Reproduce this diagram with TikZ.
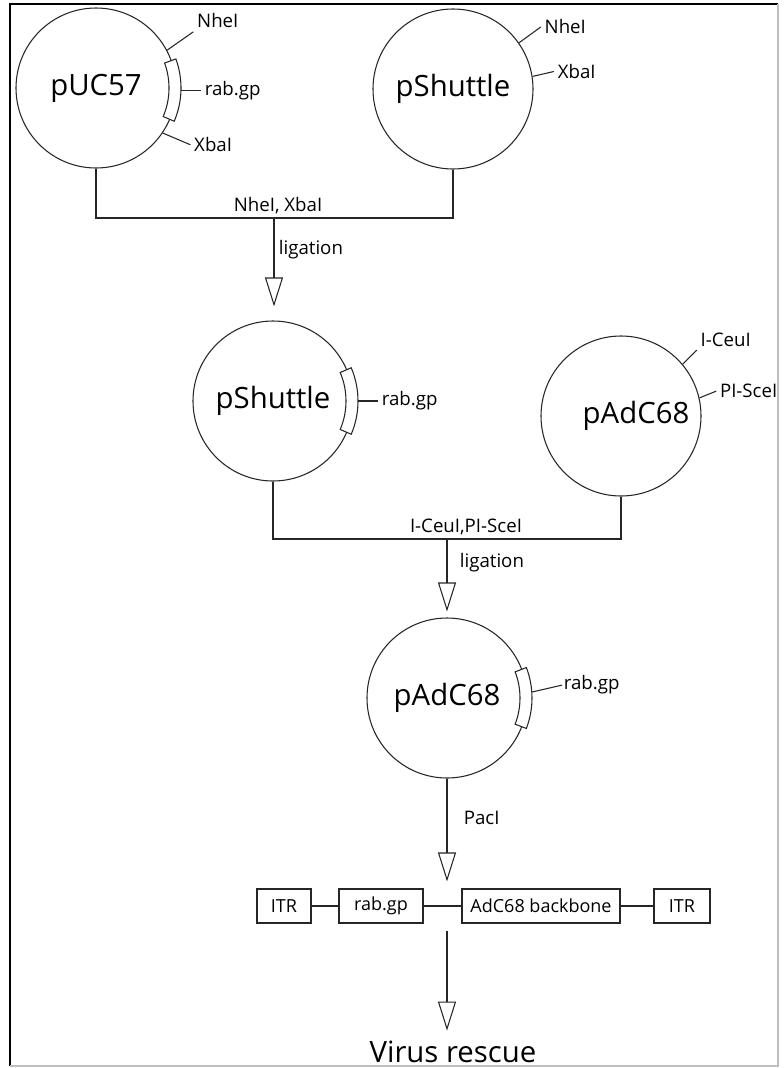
\documentclass[tikz,border=0pt]{standalone}
\usepackage{fontspec}
\setmainfont{Open Sans}
\usetikzlibrary{arrows.meta}
\usetikzlibrary{positioning}

\tikzset{
  bigname/.style={inner sep=0pt, text=black, font=\fontsize{22}{26}\selectfont},
  plasmid/.style={draw, circle, minimum size=120pt, bigname},
  site/.style={inner sep=2.5pt, text=black, font=\fontsize{14}{16}\selectfont},
  part/.style={draw, minimum height=25.5pt, inner sep=2pt, text=black, font=\fontsize{13.5}{16}\selectfont},
  digest/.style={-{Triangle[open,length=21.75pt,width=13.5pt]}},
}

\begin{document}
\begin{tikzpicture}[x=0.75pt, y=0.75pt, line width=0.8pt, color=black!85]
	\useasboundingbox (0,0) rectangle (784,-1068);
	% frame
	\draw[line width=1.1pt, black] (10,-1066) -- (10,-4) -- (778,-4);
	\draw[black!25] (778,-4) -- (778,-1066) -- (10,-1066);
	
	% plasmids
	\node[plasmid] (puc) at (96,-88) {pUC57};
	\node[plasmid] (shut1) at (453,-89) {pShuttle};
	\node[plasmid] (shut2) at (273,-401) {pShuttle};
	\node[plasmid] (adc1) at (621,-416) {};
	\node[bigname] (adc1name) at (636,-416) {pAdC68};
	\node[plasmid] (adc2) at (447,-698) {pAdC68};
	
	% pUC57 with insert
	\draw[fill=white] ([shift={(-23:73)}]puc.center) arc[start angle=-23, end angle=20, radius=73]
		-- ([shift={(20:85)}]puc.center) arc[start angle=20, end angle=-23, radius=85] -- cycle;
	\coordinate (pucins) at ([shift={(-1.5:85)}]puc.center);
	\node[site, anchor=west] (pucrab) at ([shift={(20,0)}]pucins) {rab.gp};
	\draw (pucins) -- (pucrab.west);
	\node[site, anchor=south west] (pucnhe) at ([shift={(35:32)}]puc.28) {NheI};
	\draw (puc.28) -- (pucnhe.south west);
	\node[site, anchor=west] (pucxba) at ([shift={(-23:30)}]puc.-34) {XbaI};
	\draw (puc.-34) -- (pucxba.west);
	
	% pShuttle sites
	\node[site, anchor=west] (s1nhe) at ([shift={(36:27)}]shut1.35) {NheI};
	\draw (shut1.35) -- (s1nhe.west);
	\node[site, anchor=west] (s1xba) at ([shift={(13:22)}]shut1.9) {XbaI};
	\draw (shut1.9) -- (s1xba.west);
	
	% first ligation
	\coordinate (cut1) at (274,-218);
	\draw (puc.south) |- (cut1) -| (shut1.south);
	\node[site, anchor=south] (enz1) at ([shift={(4,0)}]cut1) {NheI, XbaI};
	\draw[digest, shorten >=10.5pt] (cut1) -- (cut1 |- shut2.north);
	\node[site, anchor=west] (lig1) at (275,-250) {ligation};
	
	% pShuttle with insert
	\draw[fill=white] ([shift={(-23:73)}]shut2.center) arc[start angle=-23, end angle=23, radius=73]
		-- ([shift={(23:85)}]shut2.center) arc[start angle=23, end angle=-23, radius=85] -- cycle;
	\coordinate (s2ins) at ([shift={(0:85)}]shut2.center);
	\node[site, anchor=west] (s2rab) at ([shift={(20,0)}]s2ins) {rab.gp};
	\draw (s2ins) -- (s2rab.west);
	
	% pAdC68 sites
	\node[site, anchor=south west] (adcceu) at ([shift={(45:20)}]adc1.40) {I-CeuI};
	\draw (adc1.40) -- (adcceu.south west);
	\node[site, anchor=west] (adcsce) at ([shift={(22:18)}]adc1.13) {PI-SceI};
	\draw (adc1.13) -- (adcsce.west);
	
	% second ligation
	\coordinate (cut2) at (447,-539);
	\draw (shut2.south) |- (cut2) -| (adc1.south);
	\node[site, anchor=south] (enz2) at ([shift={(19,0)}]cut2) {I-CeuI,PI-SceI};
	\draw[digest, shorten >=4.5pt] (cut2) -- (cut2 |- adc2.north);
	\node[site, anchor=west] (lig2) at (456,-563) {ligation};
	
	% pAdC68 with insert
	\draw[fill=white] ([shift={(-21:73)}]adc2.center) arc[start angle=-21, end angle=21, radius=73]
		-- ([shift={(21:85)}]adc2.center) arc[start angle=21, end angle=-21, radius=85] -- cycle;
	\coordinate (adcins) at ([shift={(4:85)}]adc2.center);
	\node[site, anchor=west, inner sep=1pt] (adcrab) at ([shift={(13:31)}]adcins) {rab.gp};
	\draw (adcins) -- (adcrab.west);
	
	% linear genome
	\node[part, minimum width=40.5pt] (itr1) at (284,-906) {ITR};
	\node[part, minimum width=63pt] (rabgp) at (381,-906) {rab.gp};
	\node[part, minimum width=118.5pt] (backbone) at (541,-906) {AdC68 backbone};
	\node[part, minimum width=42pt] (itr2) at (682,-906) {ITR};
	\draw (itr1) -- (rabgp);
	\draw (rabgp) -- (backbone);
	\draw (backbone) -- (itr2);
	\coordinate (cut3) at (447,-906);
	\draw[digest, shorten >=5.25pt] (adc2.south) -- (cut3 |- rabgp.north);
	\node[site, anchor=west] (pac) at (460,-818) {PacI};
	
	% rescue
	\node[bigname, anchor=base] (rescue) at (453,-1062) {Virus rescue};
	\draw[digest, shorten <=5.25pt, shorten >=7pt] (cut3 |- rabgp.south) -- (cut3 |- rescue.north);
\end{tikzpicture}
\end{document}
